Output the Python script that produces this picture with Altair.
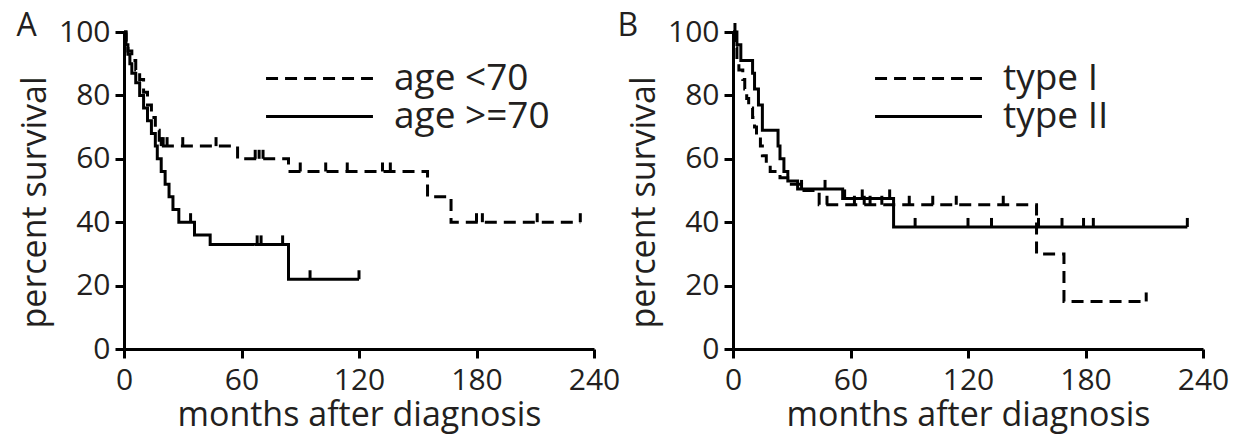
import altair as alt
import pandas as pd

FONT = "Open Sans"
INK = "#231f20"

# ---------- Panel A: age ----------
a_groups = ["age <70", "age >=70"]
a_young_t = [0, 1, 2, 4, 6, 8, 10, 12, 14, 16, 18, 58, 84, 155, 167, 233]
a_young_s = [100, 97, 94, 91, 88, 85, 81, 77, 73, 69, 64, 60, 56, 48, 40, 40]
a_young_cens = [1, 19, 20, 22, 30, 47, 67, 69, 71, 90, 103, 114, 132, 136, 180, 183, 211, 233]
a_old_t = [0, 1, 2, 3, 4, 6, 8, 10, 12, 14, 16, 17, 19, 21, 23, 25, 28, 36, 44, 84, 120]
a_old_s = [100, 96, 93, 90, 87, 84, 80, 76, 72, 68, 64, 60, 56, 52, 48, 44, 40, 36, 33, 22, 22]
a_old_cens = [34, 68, 70, 81, 95, 120]

# ---------- Panel B: type ----------
b_groups = ["type I", "type II"]
b_t1_t = [0, 1, 2, 3, 5, 6, 7, 8, 10, 11, 12, 14, 15, 17, 19, 24, 29, 35, 44, 155, 169, 211]
b_t1_s = [100, 95, 91, 88, 85, 82, 79, 76, 73, 70, 67, 64, 61, 58, 56, 54, 52, 50, 45.5, 30, 15, 15]
b_t1_cens = [48, 62, 67, 70, 76, 90, 102, 114, 138, 211]
b_t2_t = [0, 2, 4, 10, 11, 13, 15, 23, 24, 26, 28, 33, 56, 82, 232]
b_t2_s = [100, 96, 91, 87, 82, 77, 69, 64, 60, 56, 53, 50.5, 47.5, 38.5, 38.5]
b_t2_cens = [1, 35, 47, 57, 66, 80, 93, 120, 132, 156, 168, 179, 184, 232]

x_ticks = [0, 60, 120, 180, 240]
y_ticks = [0, 20, 40, 60, 80, 100]


def step_value(ts, ss, c):
    v = ss[0]
    for t, s in zip(ts, ss):
        if t <= c:
            v = s
    return v


def panel(label, label_dx, groups, curves, censors):
    rows, crows = [], []
    for g, (ts, ss), cs in zip(groups, curves, censors):
        for t, s in zip(ts, ss):
            rows.append({"t": t, "s": s, "g": g})
        for c in cs:
            crows.append({"t": c, "s": step_value(ts, ss, c), "g": g})
    df = pd.DataFrame(rows)
    cdf = pd.DataFrame(crows)

    x = alt.X("t:Q", scale=alt.Scale(domain=[0, 240], nice=False),
              axis=alt.Axis(values=x_ticks, title="months after diagnosis",
                            labelPadding=7, titlePadding=3, labelFlush=False))
    y = alt.Y("s:Q", scale=alt.Scale(domain=[0, 100], nice=False),
              axis=alt.Axis(values=y_ticks, title="percent survival",
                            labelPadding=5, titlePadding=6, labelFlush=False,
                            titleY=170))

    line = alt.Chart(df).mark_line(
        interpolate="step-after", color="black", strokeWidth=3, strokeCap="butt"
    ).encode(
        x=x, y=y,
        strokeDash=alt.StrokeDash(
            "g:N",
            scale=alt.Scale(domain=groups, range=[[12, 7], [1, 0]]),
            legend=alt.Legend(
                title=None, orient="none", legendX=176, legendY=27, padding=0,
                symbolType="M-2.97,0L2.97,0", symbolSize=1296, symbolStrokeWidth=3,
                symbolStrokeColor="black", labelFontSize=37, labelFont=FONT,
                labelColor=INK, labelOffset=55, rowPadding=-5,
            ),
        ),
    )
    cens = alt.Chart(cdf).mark_point(
        shape="M0,-1L0,0", size=324, strokeWidth=3, color="black",
        filled=False, opacity=1,
    ).encode(x="t:Q", y="s:Q")

    return alt.layer(line, cens).properties(
        width=470, height=317,
        title=alt.TitleParams(label, anchor="start", frame="bounds", fontSize=32,
                              fontWeight="normal", font=FONT, color=INK,
                              offset=-26, dx=label_dx),
    )


pA = panel("A", -2, a_groups, [(a_young_t, a_young_s), (a_old_t, a_old_s)], [a_young_cens, a_old_cens])
pB = panel("B", -10, b_groups, [(b_t1_t, b_t1_s), (b_t2_t, b_t2_s)], [b_t1_cens, b_t2_cens])

chart = alt.hconcat(pA, pB, spacing=139, bounds="flush").resolve_scale(
    strokeDash="independent"
).properties(
    padding={"left": 8, "top": 2, "right": 0, "bottom": 4}
).configure_view(stroke=None).configure_axis(
    grid=False, domainColor="black", domainWidth=3, tickColor="black", tickWidth=3,
    tickSize=9, labelFont=FONT, labelFontSize=30, labelColor=INK,
    titleFont=FONT, titleFontSize=34, titleFontWeight="normal", titleColor=INK,
)

chart.save("out.html", embed_options={"renderer": "svg", "actions": False})
